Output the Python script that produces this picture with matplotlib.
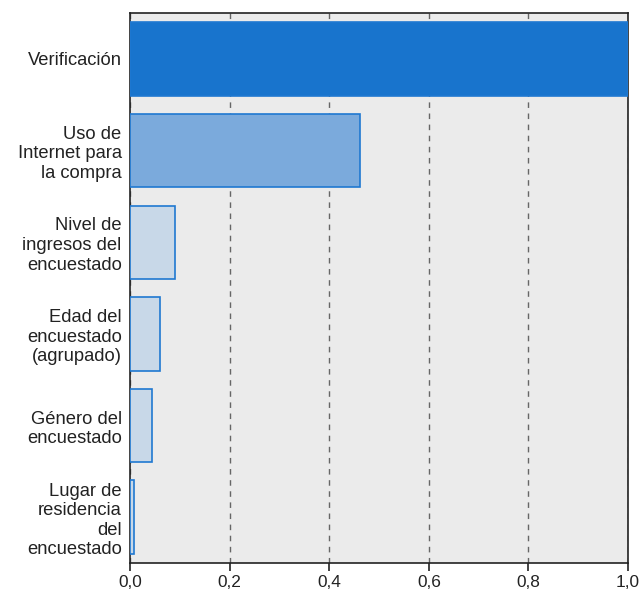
import matplotlib.pyplot as plt
from matplotlib.ticker import FuncFormatter

plt.rcParams['font.family'] = ['Liberation Sans', 'DejaVu Sans']

categorias = ["Verificación", "Uso de\nInternet para\nla compra", "Nivel de\ningresos del\nencuestado",
              "Edad del\nencuestado\n(agrupado)", "Género del\nencuestado",
              "Lugar de\nresidencia\ndel\nencuestado"]
importancia = [1.0, 0.462, 0.09, 0.06, 0.044, 0.007]
relleno = ["#1874CD", "#7BAADC", "#C8D8E8", "#C8D8E8", "#C8D8E8", "#C8D8E8"]

fig = plt.figure(figsize=(6.43, 5.97), dpi=100)
ax = fig.add_axes([0.2022, 0.057, 0.7745, 0.921])
ax.set_facecolor("#EBEBEB")

pos = list(range(len(categorias)))
ax.barh(pos, importancia, height=0.8, color=relleno, edgecolor="#1F78D1", linewidth=1.2, zorder=3)

ax.set_yticks(pos)
ax.set_yticklabels(categorias, fontsize=13.2, color="#222222", linespacing=1.2)
ax.set_ylim(len(categorias) - 0.5, -0.5)
ax.tick_params(axis='y', length=0, pad=6)

ax.set_xlim(0, 1.0)
ax.set_xticks([0, 0.2, 0.4, 0.6, 0.8, 1.0])
ax.xaxis.set_major_formatter(FuncFormatter(lambda v, p: f"{v:.1f}".replace(".", ",")))
ax.tick_params(axis='x', labelsize=12.4, length=6, width=1.2, colors="#222222", pad=3)
ax.grid(axis='x', linestyle=(0, (4, 4)), color="#666666", linewidth=1, zorder=1)

for s in ax.spines.values():
    s.set_color("#222222")
    s.set_linewidth(1.2)

fig.savefig("out.png", dpi=100)
